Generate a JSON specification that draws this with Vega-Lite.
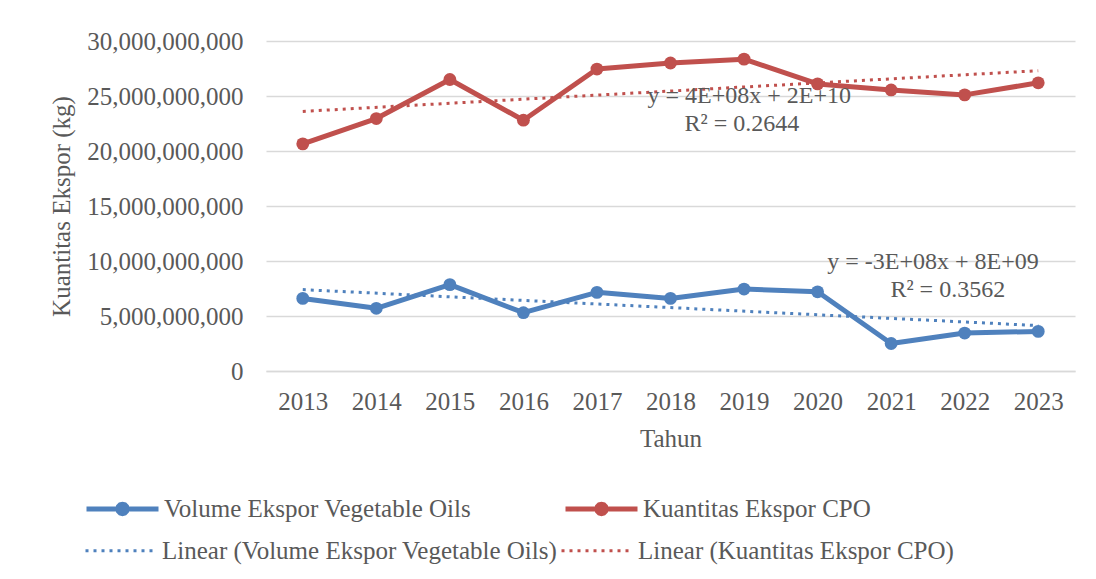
{
  "$schema": "https://vega.github.io/schema/vega-lite/v6.json",
  "width": 809,
  "height": 330,
  "autosize": {"type": "none"},
  "padding": {"left": 266, "top": 41, "right": 21, "bottom": 208},
  "background": "white",
  "config": {
    "font": "Liberation Serif",
    "view": {"stroke": null},
    "axis": {"labelColor": "#595959", "titleColor": "#595959", "labelFontSize": 25, "titleFontSize": 25, "titleFontWeight": "normal", "labelFont": "Liberation Serif", "titleFont": "Liberation Serif"},
    "legend": {"labelFont": "Liberation Serif"}
  },
  "datasets": {
    "main": [
      {"year": 2013, "series": "Volume Ekspor Vegetable Oils", "value": 6600000000},
      {"year": 2014, "series": "Volume Ekspor Vegetable Oils", "value": 5700000000},
      {"year": 2015, "series": "Volume Ekspor Vegetable Oils", "value": 7850000000},
      {"year": 2016, "series": "Volume Ekspor Vegetable Oils", "value": 5300000000},
      {"year": 2017, "series": "Volume Ekspor Vegetable Oils", "value": 7150000000},
      {"year": 2018, "series": "Volume Ekspor Vegetable Oils", "value": 6600000000},
      {"year": 2019, "series": "Volume Ekspor Vegetable Oils", "value": 7450000000},
      {"year": 2020, "series": "Volume Ekspor Vegetable Oils", "value": 7200000000},
      {"year": 2021, "series": "Volume Ekspor Vegetable Oils", "value": 2500000000},
      {"year": 2022, "series": "Volume Ekspor Vegetable Oils", "value": 3450000000},
      {"year": 2023, "series": "Volume Ekspor Vegetable Oils", "value": 3600000000},
      {"year": 2013, "series": "Kuantitas Ekspor CPO", "value": 20650000000},
      {"year": 2014, "series": "Kuantitas Ekspor CPO", "value": 22950000000},
      {"year": 2015, "series": "Kuantitas Ekspor CPO", "value": 26500000000},
      {"year": 2016, "series": "Kuantitas Ekspor CPO", "value": 22800000000},
      {"year": 2017, "series": "Kuantitas Ekspor CPO", "value": 27450000000},
      {"year": 2018, "series": "Kuantitas Ekspor CPO", "value": 28000000000},
      {"year": 2019, "series": "Kuantitas Ekspor CPO", "value": 28350000000},
      {"year": 2020, "series": "Kuantitas Ekspor CPO", "value": 26100000000},
      {"year": 2021, "series": "Kuantitas Ekspor CPO", "value": 25550000000},
      {"year": 2022, "series": "Kuantitas Ekspor CPO", "value": 25100000000},
      {"year": 2023, "series": "Kuantitas Ekspor CPO", "value": 26200000000}
    ],
    "trend": [
      {"year": 2013, "series": "Linear (Volume Ekspor Vegetable Oils)", "value": 7400000000},
      {"year": 2023, "series": "Linear (Volume Ekspor Vegetable Oils)", "value": 4130000000},
      {"year": 2013, "series": "Linear (Kuantitas Ekspor CPO)", "value": 23600000000},
      {"year": 2023, "series": "Linear (Kuantitas Ekspor CPO)", "value": 27300000000}
    ],
    "notes": [
      {"year": 2019.07, "value": 25000000000, "label": "y = 4E+08x + 2E+10"},
      {"year": 2018.97, "value": 22450000000, "label": "R² = 0.2644"},
      {"year": 2021.57, "value": 9910000000, "label": "y = -3E+08x + 8E+09"},
      {"year": 2021.77, "value": 7360000000, "label": "R² = 0.3562"}
    ]
  },
  "layer": [
    {
      "data": {"name": "main"},
      "mark": {"type": "line", "strokeWidth": 5, "strokeJoin": "round"},
      "encoding": {
        "x": {
          "field": "year", "type": "quantitative",
          "scale": {"domain": [2012.5, 2023.5], "nice": false, "zero": false},
          "axis": {
            "orient": "bottom", "title": "Tahun", "values": [2013, 2014, 2015, 2016, 2017, 2018, 2019, 2020, 2021, 2022, 2023],
            "format": "d", "grid": false, "ticks": false, "domain": true, "domainColor": "#d9d9d9", "domainWidth": 1.5,
            "labelPadding": 18, "labelFlush": false, "titleX": 404.5, "titleY": 67, "titleBaseline": "middle", "titleAlign": "center"
          }
        },
        "y": {
          "field": "value", "type": "quantitative",
          "scale": {"domain": [0, 30000000000], "nice": false},
          "axis": {
            "orient": "left", "title": "Kuantitas Ekspor (kg)", "values": [0, 5000000000, 10000000000, 15000000000, 20000000000, 25000000000, 30000000000],
            "format": ",d", "grid": true, "gridColor": "#d9d9d9", "gridWidth": 1.5, "ticks": false, "domain": false,
            "labelPadding": 23, "titleX": -205, "titleY": 165, "titleAngle": -90, "titleBaseline": "middle", "titleAlign": "center"
          }
        },
        "color": {
          "field": "series", "type": "nominal",
          "scale": {
            "domain": ["Volume Ekspor Vegetable Oils", "Kuantitas Ekspor CPO"],
            "range": ["#4F81BD", "#C0504D"]
          },
          "legend": {
            "title": null, "orient": "none", "legendX": -182, "legendY": 429, "direction": "horizontal",
            "labelFontSize": 25, "labelColor": "#595959", "labelOffset": 3, "symbolSize": 5184,
            "symbolType": "M-1,0L1,0M0.13,0L0.113,0.065L0.065,0.113L0,0.13L-0.065,0.113L-0.113,0.065L-0.13,0L-0.113,-0.065L-0.065,-0.113L0,-0.13L0.065,-0.113L0.113,-0.065Z",
            "symbolStrokeWidth": 5, "columnPadding": 83, "padding": 0, "symbolOpacity": 1, "labelLimit": 600
          }
        }
      }
    },
    {
      "data": {"name": "main"},
      "mark": {"type": "point", "filled": true, "size": 165, "opacity": 1, "shape": "circle"},
      "encoding": {
        "x": {"field": "year", "type": "quantitative"},
        "y": {"field": "value", "type": "quantitative"},
        "color": {"field": "series", "type": "nominal"}
      }
    },
    {
      "data": {"name": "trend"},
      "mark": {"type": "line", "strokeWidth": 3, "strokeDash": [3, 5]},
      "encoding": {
        "x": {"field": "year", "type": "quantitative"},
        "y": {"field": "value", "type": "quantitative"},
        "stroke": {
          "field": "series", "type": "nominal",
          "scale": {
            "domain": ["Linear (Volume Ekspor Vegetable Oils)", "Linear (Kuantitas Ekspor CPO)"],
            "range": ["#4F81BD", "#C0504D"]
          },
          "legend": {
            "title": null, "orient": "none", "legendX": -182, "legendY": 472, "direction": "horizontal",
            "labelFontSize": 25, "labelColor": "#595959", "labelOffset": 3, "symbolSize": 5184, "symbolType": "stroke",
            "symbolStrokeWidth": 3, "symbolDash": [3, 5], "columnPadding": -3, "padding": 0, "symbolOpacity": 1, "labelLimit": 600
          }
        }
      }
    },
    {
      "data": {"name": "notes"},
      "mark": {"type": "text", "fontSize": 24, "color": "#595959", "align": "center", "baseline": "middle", "font": "Liberation Serif"},
      "encoding": {
        "x": {"field": "year", "type": "quantitative"},
        "y": {"field": "value", "type": "quantitative"},
        "text": {"field": "label", "type": "nominal"}
      }
    }
  ]
}
